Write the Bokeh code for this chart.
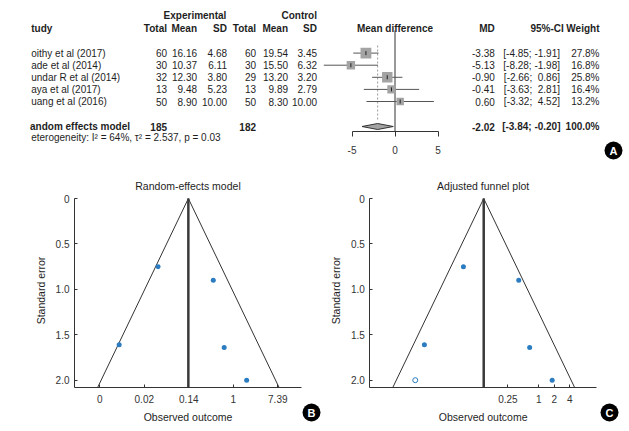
import math
from bokeh.plotting import figure
from bokeh.layouts import row, column
from bokeh.models import Range1d, LinearAxis, FixedTicker
from bokeh.embed import file_html
from bokeh.resources import INLINE
from bokeh.core.properties import value

# ---------------- data ----------------
studies = ["oithy et al (2017)", "ade et al (2014)", "undar R et al (2014)",
           "aya et al (2017)", "uang et al (2016)"]
exp_total = [60, 30, 32, 13, 50]
exp_mean = [16.16, 10.37, 12.30, 9.48, 8.90]
exp_sd = [4.68, 6.11, 3.80, 5.23, 10.00]
ctl_total = [60, 30, 29, 13, 50]
ctl_mean = [19.54, 15.50, 13.20, 9.89, 8.30]
ctl_sd = [3.45, 6.32, 3.20, 2.79, 10.00]
md = [-3.38, -5.13, -0.90, -0.41, 0.60]
ci_lo = [-4.85, -8.28, -2.66, -3.63, -3.32]
ci_hi = [-1.91, -1.98, 0.86, 2.81, 4.52]
weight = [27.8, 16.8, 25.8, 16.4, 13.2]
pooled_md, pooled_lo, pooled_hi = -2.02, -3.84, -0.20
total_exp, total_ctl = 185, 182
i2, tau2, pval = 64, 2.537, 0.03
se = [0.75, 1.61, 0.90, 1.64, 2.00]
adjusted_md = -2.47
filled_md = [-5.54]
filled_se = [2.00]
forest_ticks = [-5, 0, 5]
b_ticks = [-6, -4, -2, 0, 2]
b_tick_labels = ["0", "0.02", "0.14", "1", "7.39"]
c_tick_values = [0.25, 1, 2, 4]
c_tick_labels = ["0.25", "1", "2", "4"]
se_ticks = [0, 0.5, 1, 1.5, 2]
se_tick_labels = ["0", "0.5", "1.0", "1.5", "2.0"]

FONT = "Liberation Sans"
TXT = "#1e1e1e"
AX = "#333333"
BLUE = "#2b7cc0"
GRAYSQ = "#a3a3a3"
NBSP = "\u00a0"


def txt(p, x, y, t, align="left", bold=False, size="10px", color=TXT, angle=0):
    p.text(x=x, y=y, text=t, text_font=value(FONT), text_font_size=size,
           text_align=align, text_baseline="middle", text_color=color,
           text_font_style="bold" if bold else "normal", angle=angle)


def badge(p, x, y, t):
    p.scatter(x=[x], y=[y], size=18, fill_color="black", line_color=None)
    txt(p, [x], [y], [t], "center", True, "11px", "white")


def num(v):
    return f"{v:5.2f}".replace(" ", NBSP)


# ---------------- Panel A (one figure: table + forest) ----------------
PX_PER = 8.6          # pixels per MD unit
ZERO_PX = 394.5       # pixel column of MD = 0
ROW0_PX, ROW_PX = 52.6, 12.1


def xd(px):
    return (px - ZERO_PX) / PX_PER


def yd(py):
    return (py - ROW0_PX) / ROW_PX


rows = list(range(len(studies)))
n = len(rows)
Y_GROUP, Y_HEAD = yd(15), yd(27.7)
Y_SUM, Y_HET = yd(126), yd(137)
Y_AXIS = yd(131)

pA = figure(width=629, height=168, x_range=Range1d(xd(0), xd(629)),
            y_range=Range1d(yd(168), yd(0)), x_axis_type=None, y_axis_type=None,
            toolbar_location=None, output_backend="svg", min_border=0,
            outline_line_color=None)
pA.grid.visible = False

# left table
txt(pA, [xd(194.5)], [Y_GROUP], ["Experimental"], "center", True)
txt(pA, [xd(316.5)], [Y_GROUP], ["Control"], "right", True)
txt(pA, [xd(30.7)], [Y_HEAD], ["tudy"], "left", True)
col_x = [xd(v) for v in (166.5, 196.5, 226.5, 255.5, 287.5, 316.5)]
txt(pA, col_x, [Y_HEAD] * 6, ["Total", "Mean", "SD", "Total", "Mean", "SD"], "right", True)
txt(pA, [xd(30.7)] * n, rows, studies)
txt(pA, [col_x[0]] * n, rows, [str(v) for v in exp_total], "right")
txt(pA, [col_x[1]] * n, rows, [f"{v:.2f}" for v in exp_mean], "right")
txt(pA, [col_x[2]] * n, rows, [f"{v:.2f}" for v in exp_sd], "right")
txt(pA, [col_x[3]] * n, rows, [str(v) for v in ctl_total], "right")
txt(pA, [col_x[4]] * n, rows, [f"{v:.2f}" for v in ctl_mean], "right")
txt(pA, [col_x[5]] * n, rows, [f"{v:.2f}" for v in ctl_sd], "right")
txt(pA, [xd(29.5)], [Y_SUM], ["andom effects model"], "left", True)
txt(pA, [col_x[0], col_x[3]], [Y_SUM, Y_SUM], [str(total_exp), str(total_ctl)], "right", True)
txt(pA, [xd(30.7)], [Y_HET], [f"eterogeneity: I\u00b2 = {i2}%, \u03c4\u00b2 = {tau2}, p = {pval}"],
    "left", False, "10px")

# forest
ax = LinearAxis(ticker=FixedTicker(ticks=forest_ticks), bounds=(min(forest_ticks), max(forest_ticks)),
                fixed_location=Y_AXIS,
                major_tick_out=5, major_tick_in=0, minor_tick_in=0, minor_tick_out=0,
                major_label_standoff=9, major_label_text_font=FONT,
                major_label_text_font_size="10px", major_label_text_color=AX,
                axis_line_color=AX, major_tick_line_color=AX,
                major_label_overrides={t: str(t) for t in forest_ticks})
pA.add_layout(ax, "below")
txt(pA, [0], [Y_HEAD], ["Mean difference"], "center", True)
pA.segment(x0=[0], y0=[yd(30)], x1=[0], y1=[Y_AXIS], line_color=AX, line_width=1)
pA.segment(x0=[pooled_md], y0=[yd(45)], x1=[pooled_md], y1=[yd(120)],
           line_color="#9a9a9a", line_width=1, line_dash="2 2")
pA.segment(x0=ci_lo, y0=rows, x1=ci_hi, y1=rows, line_color="#555555", line_width=1)
pA.scatter(x=md, y=rows, marker="square", size=[2.05 * math.sqrt(w) for w in weight],
           fill_color=GRAYSQ, line_color=None)
pA.scatter(x=md, y=rows, marker="dash", angle=math.pi / 2, size=4, line_color="#222222")
dh = 3 / ROW_PX
pA.patch(x=[pooled_lo, pooled_md, pooled_hi, pooled_md],
         y=[Y_SUM, Y_SUM - dh, Y_SUM, Y_SUM + dh],
         fill_color=GRAYSQ, line_color=AX, line_width=1)

# right table
txt(pA, [xd(494.3), xd(563.3), xd(599)], [Y_HEAD] * 3, ["MD", "95%-CI", "Weight"], "right", True)
txt(pA, [xd(494.3)] * n, rows, [f"{v:.2f}" for v in md], "right")
txt(pA, [xd(559.5)] * n, rows, [f"[{num(a)};{NBSP}{num(b)}]" for a, b in zip(ci_lo, ci_hi)], "right")
txt(pA, [xd(599)] * n, rows, [f"{w:.1f}%" for w in weight], "right")
txt(pA, [xd(494.3), xd(560), xd(599)], [Y_SUM] * 3,
    [f"{pooled_md:.2f}", f"[{pooled_lo:.2f}; {pooled_hi:.2f}]", f"{sum(weight):.1f}%"], "right", True)
badge(pA, xd(613), yd(150), "A")

# ---------------- Panels B / C: funnel plots ----------------
SE_PX = 90.85         # pixels per unit of standard error
SE0_PX = 198          # pixel row of SE = 0
TOP_PX, BOT_PX = 168, 431


def sd_(py):
    return (py - SE0_PX) / SE_PX


def funnel(left_px, right_px, xfun, frame_l, frame_r, title, center, xt, xl,
           pts_md, pts_se, badge_txt, badge_px, extra_md=None, extra_se=None):
    p = figure(width=right_px - left_px, height=BOT_PX - TOP_PX,
               x_range=Range1d(xfun(left_px), xfun(right_px)),
               y_range=Range1d(sd_(BOT_PX), sd_(TOP_PX)),
               x_axis_type=None, y_axis_type=None,
               toolbar_location=None, output_backend="svg", min_border=0,
               outline_line_color=None)
    p.grid.visible = False
    se_max = sd_(387)
    x_lo, x_hi = xfun(frame_l), xfun(frame_r)
    common = dict(major_tick_in=3, major_tick_out=0, minor_tick_in=0, minor_tick_out=0,
                  axis_line_color=AX, major_tick_line_color=AX, major_label_text_font=FONT,
                  major_label_text_font_size="10px", major_label_text_color=AX)
    xa = LinearAxis(ticker=FixedTicker(ticks=xt), bounds=(x_lo, x_hi), fixed_location=se_max,
                    major_label_overrides=dict(zip(xt, xl)), major_label_standoff=7, **common)
    ya = LinearAxis(ticker=FixedTicker(ticks=se_ticks), bounds=(0, se_max), fixed_location=x_lo,
                    major_label_overrides=dict(zip(se_ticks, se_tick_labels)),
                    major_label_standoff=5, **common)
    p.add_layout(xa, "below")
    p.add_layout(ya, "left")
    mid = xfun((frame_l + frame_r) / 2)
    txt(p, [mid], [sd_(185)], [title], "center", False, "10.5px")
    txt(p, [mid], [sd_(416)], ["Observed outcome"], "center", False, "10.5px")
    txt(p, [xfun(frame_l - 34)], [sd_(290)], ["Standard error"], "center", False, "10.5px",
        angle=math.pi / 2)
    p.line(x=[center - 1.96 * se_max, center, center + 1.96 * se_max], y=[se_max, 0, se_max],
           line_color=AX, line_width=1)
    p.segment(x0=[center], y0=[0], x1=[center], y1=[se_max], line_color="#3a3a3a", line_width=2.5)
    p.scatter(x=pts_md, y=pts_se, size=5, fill_color=BLUE, line_color=None)
    if extra_md:
        p.scatter(x=extra_md, y=extra_se, size=5, fill_color="white", line_color=BLUE, line_width=1)
    badge(p, xfun(badge_px), sd_(412), badge_txt)
    return p


def xB(px):
    return -2 + (px - 188.3) / 22.25


def xC(px):
    return (px - 538.3) / 22.3


pB = funnel(0, 321, xB, 74, 301, "Random-effects model", pooled_md,
            b_ticks, b_tick_labels, md, se, "B", 311)
c_ticks = [math.log(v) for v in c_tick_values]
pC = funnel(321, 629, xC, 369.3, 596, "Adjusted funnel plot", adjusted_md,
            c_ticks, c_tick_labels, md, se, "C", 609, filled_md, filled_se)

layout = column(pA, row(pB, pC))
open("out.html", "w").write(file_html(layout, INLINE))
